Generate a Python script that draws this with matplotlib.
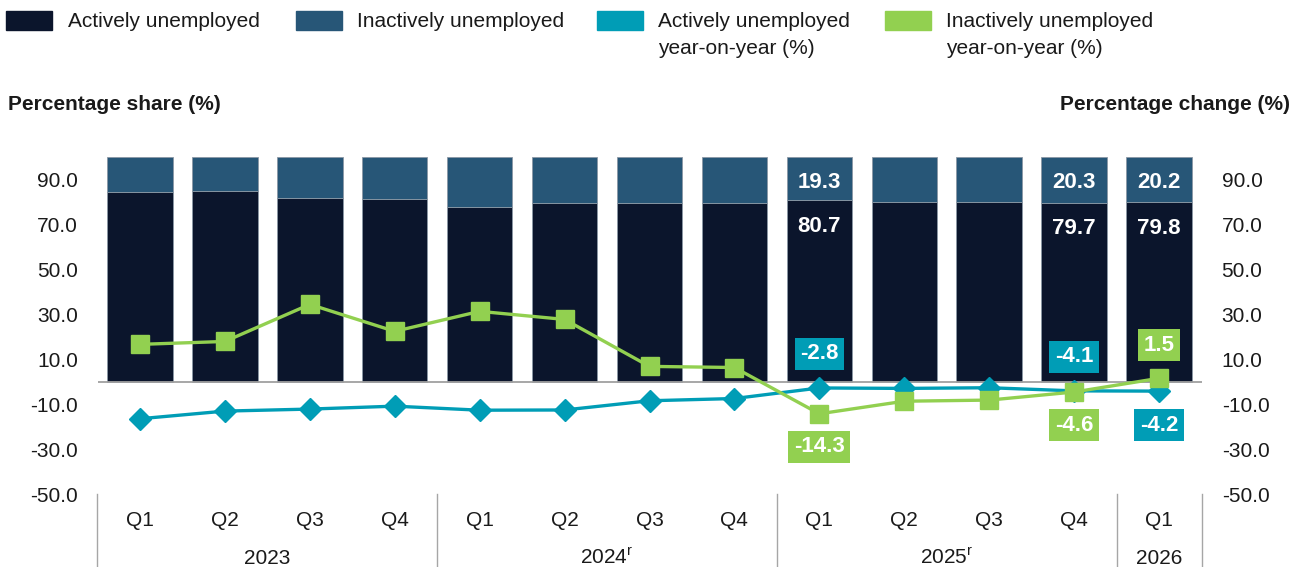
import matplotlib
matplotlib.use('Agg')
import matplotlib.pyplot as plt
from matplotlib.patches import Rectangle
import matplotlib.transforms as mtransforms

plt.rcParams['font.family'] = ['Liberation Sans', 'DejaVu Sans']
plt.rcParams['mathtext.fontset'] = 'custom'
plt.rcParams['mathtext.rm'] = 'Liberation Sans'

# ---------------- data ----------------
quarters = ['Q1', 'Q2', 'Q3', 'Q4', 'Q1', 'Q2', 'Q3', 'Q4', 'Q1', 'Q2', 'Q3', 'Q4', 'Q1']
years = ['2023', '2024$^{\\mathregular{r}}$', '2025$^{\\mathregular{r}}$', '2026']
year_counts = [4, 4, 4, 1]

active_share = [84.3, 84.7, 81.6, 81.5, 77.9, 79.4, 79.4, 79.4, 80.7, 80.1, 80.1, 79.7, 79.8]
inactive_share = [15.7, 15.3, 18.4, 18.5, 22.1, 20.6, 20.6, 20.6, 19.3, 19.9, 19.9, 20.3, 20.2]
active_yoy = [-16.5, -13.1, -12.2, -10.9, -12.7, -12.6, -8.5, -7.5, -2.8, -3.0, -2.7, -4.1, -4.2]
inactive_yoy = [16.6, 17.9, 34.4, 22.4, 31.3, 27.7, 6.8, 6.3, -14.3, -8.7, -8.2, -4.6, 1.5]

labelled = [8, 11, 12]
active_yoy_label_dir = {8: 1, 11: 1, 12: -1}
inactive_yoy_label_dir = {8: -1, 11: -1, 12: 1}

legend_labels = ['Actively unemployed', 'Inactively unemployed',
                 'Actively unemployed\nyear-on-year (%)',
                 'Inactively unemployed\nyear-on-year (%)']

# ---------------- style ----------------
C_ACT = '#0b152c'
C_INACT = '#275677'
C_CYAN = '#009db6'
C_GREEN = '#92d050'
TXT = '#1a1a1a'
FS = 15
FSB = 16

W, H = 1296, 567
fig = plt.figure(figsize=(W / 100, H / 100), dpi=100)
ax = fig.add_axes([97.5 / W, (H - 494) / H, 1104 / W, 337 / H])

x = list(range(len(quarters)))
ax.bar(x, active_share, width=0.77, color=C_ACT, edgecolor='#8b98a5', linewidth=0.6, zorder=2)
ax.bar(x, inactive_share, bottom=active_share, width=0.77, color=C_INACT,
       edgecolor='#8b98a5', linewidth=0.6, zorder=2, clip_on=False)
ax.axhline(0, color='#a0a0a0', lw=1.3, zorder=2.5)

ax.plot(x, active_yoy, color=C_CYAN, lw=2.4, marker='D', ms=11, zorder=4)
ax.plot(x, inactive_yoy, color=C_GREEN, lw=2.4, marker='s', ms=12.5, zorder=5)

ax.set_xlim(-0.5, len(quarters) - 0.5)
ax.set_ylim(-50, 100)
ticks = [-50, -30, -10, 10, 30, 50, 70, 90]
ax.set_yticks(ticks)
ax.set_yticklabels([f'{t:.1f}' for t in ticks], fontsize=FS, color=TXT)
ax.tick_params(axis='y', length=0, pad=14)
ax.set_xticks([])
for s in ax.spines.values():
    s.set_visible(False)

ax2 = ax.twinx()
ax2.set_ylim(ax.get_ylim())
ax2.set_yticks(ticks)
ax2.set_yticklabels([f'{t:.1f}' for t in ticks], fontsize=FS, color=TXT)
ax2.tick_params(axis='y', length=0, pad=14.5)
for s in ax2.spines.values():
    s.set_visible(False)

# bar labels
for i in labelled:
    ax.annotate(f'{inactive_share[i]:.1f}', xy=(i, active_share[i] + inactive_share[i]),
                xytext=(0, -26), textcoords='offset pixels', ha='center', va='center',
                color='white', fontweight='bold', fontsize=FSB, zorder=6)
    ax.annotate(f'{active_share[i]:.1f}', xy=(i, active_share[i]),
                xytext=(0, -26), textcoords='offset pixels', ha='center', va='center',
                color='white', fontweight='bold', fontsize=FSB, zorder=6)

# line labels
for i, d in active_yoy_label_dir.items():
    ax.annotate(f'{active_yoy[i]:.1f}', xy=(i, active_yoy[i]), xytext=(0, 34 * d),
                textcoords='offset pixels', ha='center', va='center', color='white',
                fontweight='bold', fontsize=FSB, zorder=7,
                bbox=dict(boxstyle='square,pad=0.25', fc=C_CYAN, ec='none'))
for i, d in inactive_yoy_label_dir.items():
    ax.annotate(f'{inactive_yoy[i]:.1f}', xy=(i, inactive_yoy[i]), xytext=(0, 33 * d),
                textcoords='offset pixels', ha='center', va='center', color='white',
                fontweight='bold', fontsize=FSB, zorder=7,
                bbox=dict(boxstyle='square,pad=0.25', fc=C_GREEN, ec='none'))

# category axis
trans = mtransforms.blended_transform_factory(ax.transData, ax.transAxes)
for i, q in enumerate(quarters):
    ax.text(i, -27 / 337, q, transform=trans, ha='center', va='center', fontsize=FS, color=TXT)
start = 0
seps = [-0.5]
for lab, n in zip(years, year_counts):
    mid = start + (n - 1) / 2
    ax.text(mid, -64 / 337, lab, transform=trans, ha='center', va='center', fontsize=FS, color=TXT)
    start += n
    seps.append(start - 0.5)
for s in seps:
    ax.plot([s, s], [0, -75 / 337], transform=trans, clip_on=False, color='#a6a6a6', lw=1.0)

# legend (manual)
legend_colors = [C_ACT, C_INACT, C_CYAN, C_GREEN]
patch_x = [6, 296, 597, 885]
text_x = [68, 357, 658, 946]
for px, tx, c, lab in zip(patch_x, text_x, legend_colors, legend_labels):
    fig.patches.append(Rectangle((px / W, 1 - 30 / H), 46 / W, 19 / H,
                                 transform=fig.transFigure, color=c))
    fig.text(tx / W, 1 - 12 / H, lab, ha='left', va='top', fontsize=FS, color=TXT,
             linespacing=1.5)

fig.text(8 / W, 1 - 105 / H, 'Percentage share (%)', ha='left', va='center',
         fontsize=FS, fontweight='bold', color=TXT)
fig.text(1290 / W, 1 - 105 / H, 'Percentage change (%)', ha='right', va='center',
         fontsize=FS, fontweight='bold', color=TXT)

fig.savefig('out.png', dpi=100)
